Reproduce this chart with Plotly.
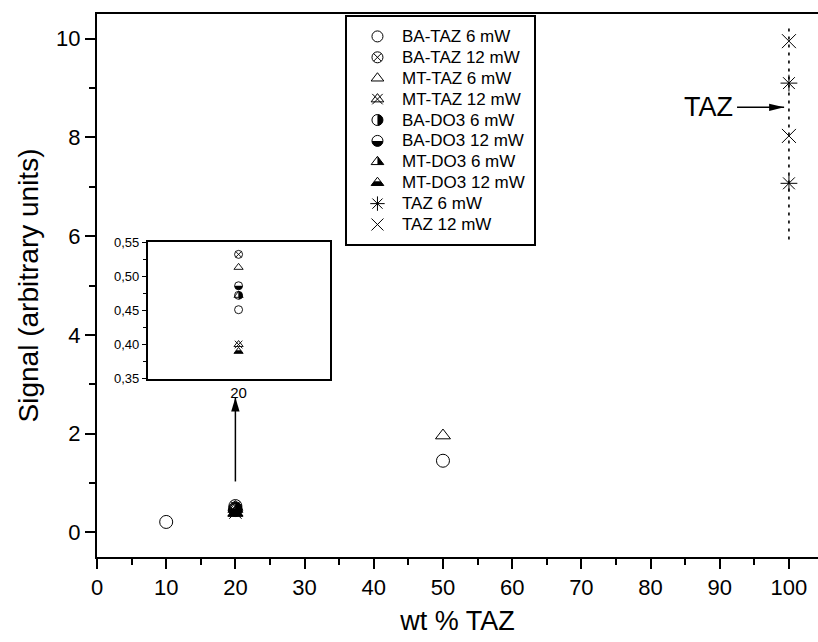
import numpy as np
import plotly.graph_objects as go

# ---------------- data ----------------
series_names = ["BA-TAZ 6 mW", "BA-TAZ 12 mW", "MT-TAZ 6 mW", "MT-TAZ 12 mW",
                "BA-DO3 6 mW", "BA-DO3 12 mW", "MT-DO3 6 mW", "MT-DO3 12 mW",
                "TAZ 6 mW", "TAZ 12 mW"]
series_kinds = ["circle", "circle-x", "tri", "tri-x",
                "circle-right", "circle-lower", "tri-right", "tri-lower",
                "asterisk", "x"]

ba_taz_6_x = [10, 20, 50]
ba_taz_6_y = [0.21, 0.451, 1.45]
ba_taz_12_x = [20]
ba_taz_12_y = [0.532]
mt_taz_6_x = [20, 50]
mt_taz_6_y = [0.513, 1.96]
mt_taz_12_x = [20]
mt_taz_12_y = [0.400]
ba_do3_6_x = [20]
ba_do3_6_y = [0.472]
ba_do3_12_x = [20]
ba_do3_12_y = [0.486]
mt_do3_6_x = [20]
mt_do3_6_y = [0.472]
mt_do3_12_x = [20]
mt_do3_12_y = [0.390]
taz_6_x = [100, 100]
taz_6_y = [9.10, 7.07]
taz_12_x = [100, 100]
taz_12_y = [9.95, 8.03]

series_x = [ba_taz_6_x, ba_taz_12_x, mt_taz_6_x, mt_taz_12_x, ba_do3_6_x,
            ba_do3_12_x, mt_do3_6_x, mt_do3_12_x, taz_6_x, taz_12_x]
series_y = [ba_taz_6_y, ba_taz_12_y, mt_taz_6_y, mt_taz_12_y, ba_do3_6_y,
            ba_do3_12_y, mt_do3_6_y, mt_do3_12_y, taz_6_y, taz_12_y]

x_tick_vals = [0, 10, 20, 30, 40, 50, 60, 70, 80, 90, 100]
x_tick_text = ["0", "10", "20", "30", "40", "50", "60", "70", "80", "90", "100"]
y_tick_vals = [0, 2, 4, 6, 8, 10]
y_tick_text = ["0", "2", "4", "6", "8", "10"]
inset_x_tick_vals = [20]
inset_x_tick_text = ["20"]
inset_y_tick_vals = [0.35, 0.40, 0.45, 0.50, 0.55]
inset_y_tick_text = ["0,35", "0,40", "0,45", "0,50", "0,55"]

# annotations (data coordinates)
taz_label = "TAZ"
taz_label_pos = (88.35, 8.61)
taz_arrow_tail = (92.5, 8.61)
taz_arrow_tip = (99.3, 8.61)
taz_guide_x = 100
taz_guide_y = (5.93, 10.3)
inset_arrow_tail = (20, 1.03)
inset_arrow_tip = (20, 2.73)

FONT = "Liberation Sans, Arial, sans-serif"

fig = go.Figure()
shapes = []


def poly_path(pts):
    return "M" + " L".join(f"{px:.2f},{py:.2f}" for px, py in pts) + " Z"


def fill_path(kind, s):
    r = s / 2.0
    if kind == "circle-right":
        a = np.linspace(-np.pi / 2, np.pi / 2, 19)
        return poly_path(list(zip(r * np.cos(a), r * np.sin(a))))
    if kind == "circle-lower":
        a = np.linspace(np.pi, 2 * np.pi, 19)
        return poly_path(list(zip(r * np.cos(a), r * np.sin(a))))
    if kind == "tri-right":
        return poly_path([(0, s / 2), (0.5774 * s, -s / 4), (0, -s / 4)])
    if kind == "tri-lower":
        return poly_path([(-0.5774 * s, -s / 4), (0.5774 * s, -s / 4),
                          (0.2887 * s, 0.125 * s), (-0.2887 * s, 0.125 * s)])
    return None


base_symbol = {"circle": "circle-open", "circle-x": "circle-x-open",
               "tri": "triangle-up-open", "tri-x": "triangle-up-open",
               "circle-right": "circle-open", "circle-lower": "circle-open",
               "tri-right": "triangle-up-open", "tri-lower": "triangle-up-open",
               "asterisk": "asterisk-open", "x": "x-thin-open"}


def add_marks(xs, ys, kind, size, xa, ya, name, lw=1.0, xr=None, yr=None):
    sz = size
    if kind in ("asterisk", "x"):
        sz = size + 1
    fig.add_trace(go.Scatter(
        x=xs, y=ys, mode="markers", name=name, showlegend=False,
        xaxis=xa, yaxis=ya, hoverinfo="skip",
        marker=dict(symbol=base_symbol[kind], size=sz, color="black",
                    line=dict(color="black", width=lw))))
    if kind == "tri-x":
        fig.add_trace(go.Scatter(
            x=xs, y=ys, mode="markers", name=name, showlegend=False,
            xaxis=xa, yaxis=ya, hoverinfo="skip",
            marker=dict(symbol="x-thin-open", size=size * 0.95, color="black",
                        line=dict(color="black", width=lw))))
    p = fill_path(kind, size)
    if p is not None:
        for xv, yv in zip(xs, ys):
            if xr is not None and not (xr[0] <= xv <= xr[1]):
                continue
            if yr is not None and not (yr[0] <= yv <= yr[1]):
                continue
            shapes.append(dict(type="path", path=p, xsizemode="pixel",
                               ysizemode="pixel", xanchor=xv, yanchor=yv,
                               xref=xa, yref=ya, fillcolor="black",
                               line=dict(width=0), layer="above"))


X_RANGE = [0, 104.2]
Y_RANGE = [-0.5, 10.5]
IX_RANGE = [19.0, 21.0]
IY_RANGE = [0.35, 0.55]

# main plot marks
for name, kind, xs, ys in zip(series_names, series_kinds, series_x, series_y):
    add_marks(xs, ys, kind, 13, "x", "y", name, lw=1.0, xr=X_RANGE, yr=Y_RANGE)

# inset marks
for name, kind, xs, ys in zip(series_names, series_kinds, series_x, series_y):
    add_marks(xs, ys, kind, 8, "x2", "y2", name, lw=0.9, xr=IX_RANGE, yr=IY_RANGE)

# legend (drawn in its own pixel-like axes)
LEG_W, LEG_H = 187.0, 226.6
leg_row0, leg_dy = 19.0, 20.9
leg_marker_x, leg_text_x = 30.0, 52.5
for i, (name, kind) in enumerate(zip(series_names, series_kinds)):
    ry = leg_row0 + leg_dy * i
    add_marks([leg_marker_x], [ry], kind, 11, "x3", "y3", name, lw=1.0)

annotations = []
for i, name in enumerate(series_names):
    ry = leg_row0 + leg_dy * i
    annotations.append(dict(x=leg_text_x, y=ry, xref="x3", yref="y3",
                            text=name, showarrow=False, xanchor="left",
                            yanchor="middle",
                            font=dict(family=FONT, size=17, color="black")))

# TAZ label
annotations.append(dict(x=taz_label_pos[0], y=taz_label_pos[1], xref="x", yref="y",
                        text=taz_label, showarrow=False, xanchor="center",
                        yanchor="middle",
                        font=dict(family=FONT, size=27, color="black")))

# dotted guide line at 100 wt%
shapes.append(dict(type="line", xref="x", yref="y", x0=taz_guide_x, x1=taz_guide_x,
                   y0=taz_guide_y[0], y1=taz_guide_y[1],
                   line=dict(color="black", width=1.6, dash="3px,5px"), layer="above"))

# horizontal arrow to the TAZ points
shapes.append(dict(type="line", xref="x", yref="y", x0=taz_arrow_tail[0],
                   x1=taz_arrow_tip[0], y0=taz_arrow_tail[1], y1=taz_arrow_tip[1],
                   line=dict(color="black", width=1.5), layer="above"))
shapes.append(dict(type="path", xref="x", yref="y", xsizemode="pixel", ysizemode="pixel",
                   xanchor=taz_arrow_tip[0], yanchor=taz_arrow_tip[1],
                   path="M0,0 L-15,3.6 L-15,-3.6 Z", fillcolor="black",
                   line=dict(width=0), layer="above"))

# vertical arrow to the inset
shapes.append(dict(type="line", xref="x", yref="y", x0=inset_arrow_tail[0],
                   x1=inset_arrow_tip[0], y0=inset_arrow_tail[1], y1=inset_arrow_tip[1],
                   line=dict(color="black", width=1.5), layer="above"))
shapes.append(dict(type="path", xref="x", yref="y", xsizemode="pixel", ysizemode="pixel",
                   xanchor=inset_arrow_tip[0], yanchor=inset_arrow_tip[1],
                   path="M0,0 L4.2,-14 L-4.2,-14 Z", fillcolor="black",
                   line=dict(width=0), layer="above"))

axis_font = dict(family=FONT, size=22, color="black")
title_font = dict(family=FONT, size=27, color="black")

fig.update_layout(
    width=818, height=642,
    margin=dict(l=97, r=0, t=14, b=85),
    paper_bgcolor="white", plot_bgcolor="white",
    showlegend=False,
    font=dict(family=FONT, color="black"),
    xaxis=dict(domain=[0, 1], range=X_RANGE, tickmode="array",
               tickvals=x_tick_vals, ticktext=x_tick_text,
               ticks="outside", ticklen=10, tickwidth=2, tickcolor="black",
               showline=True, linewidth=2, linecolor="black", mirror=True,
               showgrid=False, zeroline=False, tickfont=axis_font,
               minor=dict(dtick=5, tick0=0, ticks="outside", ticklen=6,
                          tickwidth=2, tickcolor="black", showgrid=False),
               title=dict(text="wt % TAZ", font=title_font, standoff=12)),
    yaxis=dict(domain=[0, 1], range=Y_RANGE, tickmode="array",
               tickvals=y_tick_vals, ticktext=y_tick_text,
               ticks="outside", ticklen=10, tickwidth=2, tickcolor="black",
               showline=True, linewidth=2, linecolor="black", mirror=False,
               showgrid=False, zeroline=False, tickfont=axis_font,
               minor=dict(dtick=1, tick0=0, ticks="outside", ticklen=6,
                          tickwidth=2, tickcolor="black", showgrid=False),
               title=dict(text="Signal (arbitrary units)",
                          font=dict(family=FONT, size=28, color="black"), standoff=9)),
    xaxis2=dict(domain=[0.0702, 0.3225], anchor="y2", range=IX_RANGE,
                tickmode="array", tickvals=inset_x_tick_vals, ticktext=inset_x_tick_text,
                ticks="", showline=True, linewidth=1.5, linecolor="black", mirror=True,
                showgrid=False, zeroline=False,
                tickfont=dict(family=FONT, size=15, color="black")),
    yaxis2=dict(domain=[0.3284, 0.580], anchor="x2", range=IY_RANGE,
                tickmode="array", tickvals=inset_y_tick_vals, ticktext=inset_y_tick_text,
                ticks="outside", ticklen=4, tickwidth=1.2, tickcolor="black",
                showline=True, linewidth=1.5, linecolor="black", mirror=True,
                showgrid=False, zeroline=False,
                tickfont=dict(family=FONT, size=13, color="black"),
                minor=dict(dtick=0.025, tick0=0.35, ticks="outside", ticklen=2.5,
                           tickwidth=1, tickcolor="black", showgrid=False)),
    xaxis3=dict(domain=[0.3474, 0.6067], anchor="y3", range=[0, LEG_W],
                showline=True, linewidth=1.5, linecolor="black", mirror=True,
                showgrid=False, zeroline=False, showticklabels=False, ticks="",
                fixedrange=True),
    yaxis3=dict(domain=[0.5764, 0.9937], anchor="x3", range=[LEG_H, 0],
                showline=True, linewidth=1.5, linecolor="black", mirror=True,
                showgrid=False, zeroline=False, showticklabels=False, ticks="",
                fixedrange=True),
    shapes=shapes,
    annotations=annotations,
)

fig.write_html("out.html")
